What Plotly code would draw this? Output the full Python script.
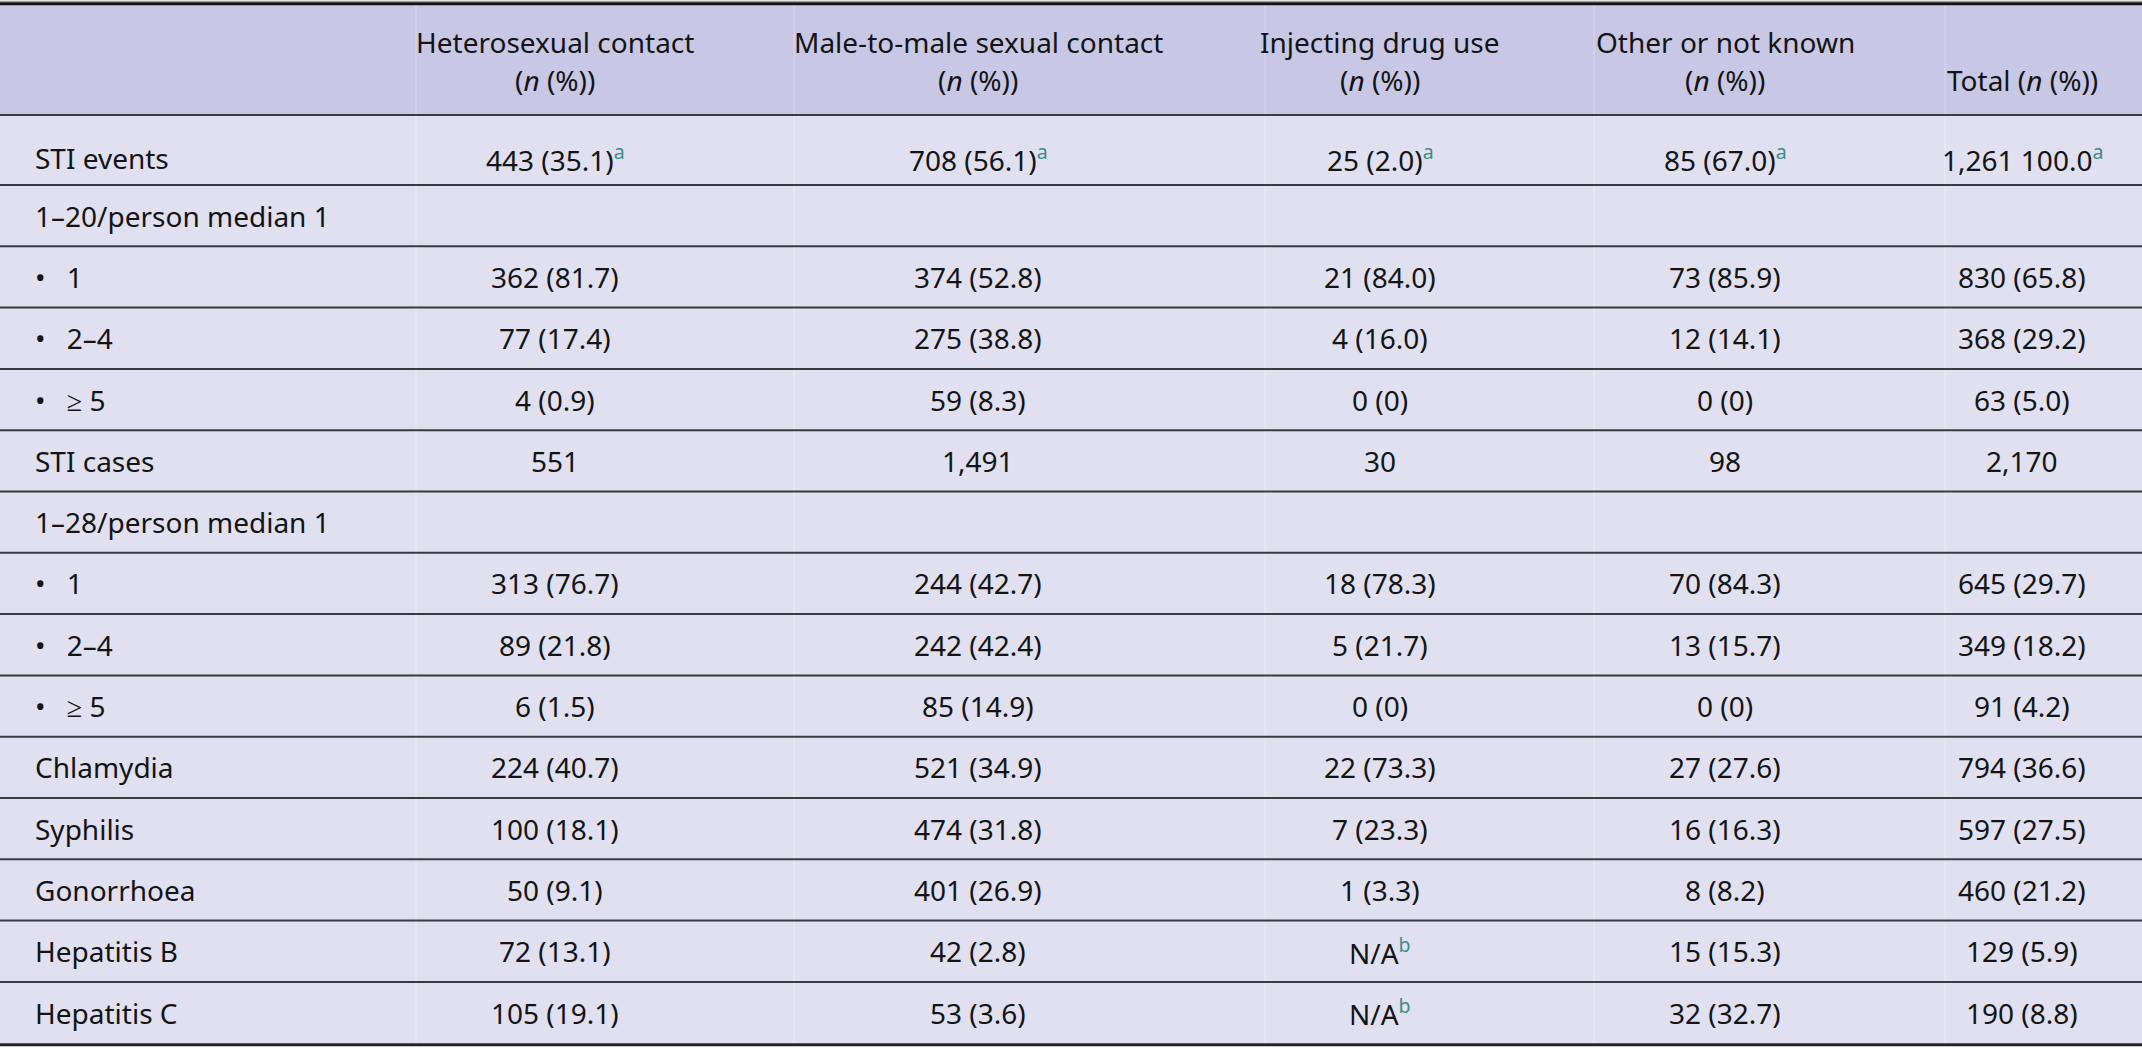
import plotly.graph_objects as go

# Table contents
row_labels = ["STI events", "1–20/person median 1", "•\u2002\u00a01", "•\u2002\u00a02–4", "•\u2002\u00a0≥ 5",
              "STI cases", "1–28/person median 1", "•\u2002\u00a01", "•\u2002\u00a02–4", "•\u2002\u00a0≥ 5",
              "Chlamydia", "Syphilis", "Gonorrhoea", "Hepatitis B", "Hepatitis C"]

hetero = ["443 (35.1)", "", "362 (81.7)", "77 (17.4)", "4 (0.9)", "551", "", "313 (76.7)", "89 (21.8)",
          "6 (1.5)", "224 (40.7)", "100 (18.1)", "50 (9.1)", "72 (13.1)", "105 (19.1)"]
msm = ["708 (56.1)", "", "374 (52.8)", "275 (38.8)", "59 (8.3)", "1,491", "", "244 (42.7)", "242 (42.4)",
       "85 (14.9)", "521 (34.9)", "474 (31.8)", "401 (26.9)", "42 (2.8)", "53 (3.6)"]
idu = ["25 (2.0)", "", "21 (84.0)", "4 (16.0)", "0 (0)", "30", "", "18 (78.3)", "5 (21.7)",
       "0 (0)", "22 (73.3)", "7 (23.3)", "1 (3.3)", "N/A", "N/A"]
other = ["85 (67.0)", "", "73 (85.9)", "12 (14.1)", "0 (0)", "98", "", "70 (84.3)", "13 (15.7)",
         "0 (0)", "27 (27.6)", "16 (16.3)", "8 (8.2)", "15 (15.3)", "32 (32.7)"]
total = ["1,261 100.0", "", "830 (65.8)", "368 (29.2)", "63 (5.0)", "2,170", "", "645 (29.7)", "349 (18.2)",
         "91 (4.2)", "794 (36.6)", "597 (27.5)", "460 (21.2)", "129 (5.9)", "190 (8.8)"]

# footnote markers: (row, column, mark)
footnotes = [(0, 0, "a"), (0, 1, "a"), (0, 2, "a"), (0, 3, "a"), (0, 4, "a"), (13, 2, "b"), (14, 2, "b")]

header_line1 = ["Heterosexual contact", "Male-to-male sexual contact", "Injecting drug use", "Other or not known", ""]
header_line2 = ["(<i>n</i> (%))", "(<i>n</i> (%))", "(<i>n</i> (%))", "(<i>n</i> (%))", "Total (<i>n</i> (%))"]

columns = [hetero, msm, idu, other, total]

# Layout (pixels)
W, H = 2142, 1048
col_x = [555, 978, 1380, 1725, 2022]
sep_x = [416, 794, 1265, 1594, 1945]
label_x = 33
header_top, header_bottom = 5, 115
first_row_h = 70
row_h = 61.3
font_size = 28
text_color = "#141414"
note_color = "#3f8f86"
header_fill = "#c8c8e6"
body_fill = "#e0e0f0"

row_tops = [header_bottom] + [header_bottom + first_row_h + row_h * k for k in range(len(row_labels) - 1)]
row_mid = [header_bottom + 43] + [t + row_h / 2 for t in row_tops[1:]]
table_bottom = row_tops[-1] + row_h

fig = go.Figure()

shapes = []
# backgrounds
shapes.append(dict(type="rect", x0=0, x1=W, y0=header_top, y1=header_bottom, fillcolor=header_fill, line_width=0, layer="below"))
shapes.append(dict(type="rect", x0=0, x1=W, y0=header_bottom, y1=table_bottom, fillcolor=body_fill, line_width=0, layer="below"))

# faint column separators
for x in sep_x:
    shapes.append(dict(type="line", x0=x, x1=x, y0=header_top, y1=header_bottom, line=dict(color="#d3d3ec", width=1.5)))
    shapes.append(dict(type="line", x0=x, x1=x, y0=header_bottom, y1=table_bottom, line=dict(color="#e7e7f4", width=1.5)))

# horizontal rules
shapes.append(dict(type="line", x0=0, x1=W, y0=1.5, y1=1.5, line=dict(color="#9a9a9a", width=1.5)))
shapes.append(dict(type="line", x0=0, x1=W, y0=3.8, y1=3.8, line=dict(color="#111111", width=3)))
for t in row_tops:
    shapes.append(dict(type="line", x0=0, x1=W, y0=t, y1=t, line=dict(color="#3a3a40", width=2)))
shapes.append(dict(type="line", x0=0, x1=W, y0=table_bottom + 1.5, y1=table_bottom + 1.5, line=dict(color="#222226", width=3)))

annotations = []
# header
for c in range(len(columns)):
    if header_line1[c]:
        annotations.append(dict(x=col_x[c], y=42, text=header_line1[c], xanchor="center", yanchor="middle"))
    annotations.append(dict(x=col_x[c], y=80, text=header_line2[c], xanchor="center", yanchor="middle"))

# body
notes = {(r, c): m for r, c, m in footnotes}
for r, label in enumerate(row_labels):
    annotations.append(dict(x=label_x, y=row_mid[r], text=label, xanchor="left", yanchor="middle"))
    for c, col in enumerate(columns):
        txt = col[r]
        if not txt:
            continue
        if (r, c) in notes:
            txt += f"<sup style='color:{note_color}'>{notes[(r, c)]}</sup>"
        annotations.append(dict(x=col_x[c], y=row_mid[r], text=txt, xanchor="center", yanchor="middle"))

for a in annotations:
    a.update(xref="x", yref="y", showarrow=False, font=dict(family="Noto Sans", size=font_size, color=text_color))

fig.update_layout(
    width=W, height=H,
    margin=dict(l=0, r=0, t=0, b=0),
    paper_bgcolor="white", plot_bgcolor="white",
    xaxis=dict(range=[0, W], visible=False, fixedrange=True),
    yaxis=dict(range=[H, 0], visible=False, fixedrange=True),
    shapes=shapes,
    annotations=annotations,
    showlegend=False,
)

# drop the default page margin so the table fills the window
fig.write_html("out.html", config={"displayModeBar": False},
               post_script="document.body.style.margin='0';document.body.style.overflow='hidden';")
